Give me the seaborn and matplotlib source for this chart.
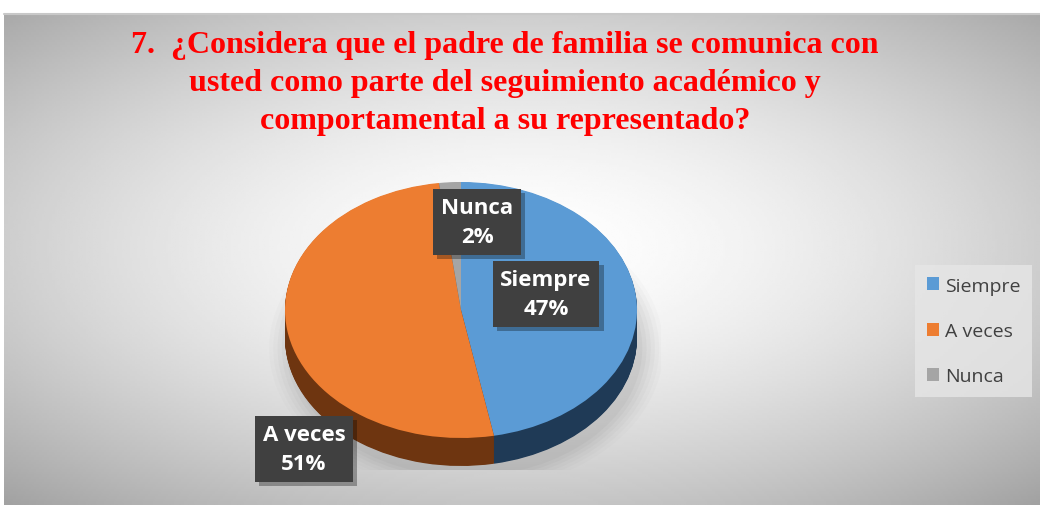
import numpy as np
import matplotlib
matplotlib.use("Agg")
import matplotlib.pyplot as plt
import matplotlib.patheffects as pe
import seaborn as sns
from matplotlib.patches import Patch, Ellipse

sns.set_style("white")
plt.rcParams["font.family"] = ["Open Sans", "DejaVu Sans"]

# ===============================
# Data
# ===============================
categorias = ["Siempre", "A veces", "Nunca"]
porcentajes = [47, 51, 2]
colores = ["#5b9bd5", "#ed7d31", "#a5a5a5"]
colores_lado = ["#1f3a56", "#6e3510", "#5a5a5a"]
titulo = ("7.  ¿Considera que el padre de familia se comunica con\n"
          "usted como parte del seguimiento académico y\n"
          "comportamental a su representado?")

W, H = 1040, 506
fig = plt.figure(figsize=(W / 100, H / 100), dpi=100)
fig.patch.set_facecolor("white")

# ===============================
# Background (radial gradient)
# ===============================
bg = fig.add_axes([4 / W, 0, 1036 / W, 491 / H])
gx, gy = np.meshgrid(np.linspace(-1, 1, 400), np.linspace(-1, 1, 200))
r = np.sqrt((gx * 0.95) ** 2 + ((gy + 0.05) * 1.0) ** 2)
shade = 1.0 - 0.21 * np.clip(r, 0, 1.45) ** 1.6
bg.imshow(shade, cmap="gray", vmin=0, vmax=1, aspect="auto", extent=[0, 1, 0, 1])
bg.set_axis_off()
fig.add_artist(plt.Line2D([4 / W, 1], [491 / H, 491 / H], color="#c8c8c8", lw=1.5))

# ===============================
# Pie (pseudo 3D)
# ===============================
cx, cy, a, b = 461, 195, 176, 128
ax = fig.add_axes([(cx - 200) / W, (cy - 160) / H, 400 / W, 320 / H])
ax.set_axis_off()
ax.patch.set_alpha(0)

profundidad = 28 / b
# soft shadow
for k, al in zip(np.linspace(1.12, 1.0, 6), [0.03, 0.04, 0.05, 0.06, 0.07, 0.08]):
    ax.add_patch(Ellipse((0.03, -profundidad - 0.08), 2 * k, 2 * k, color="#808080",
                         alpha=al, lw=0, zorder=0))

for d in np.linspace(profundidad, 0.005, 40):
    ax.pie(porcentajes, colors=colores_lado, startangle=90, counterclock=False,
           center=(0, -d), radius=1, wedgeprops=dict(linewidth=0))
ax.pie(porcentajes, colors=colores, startangle=90, counterclock=False,
       center=(0, 0), radius=1, wedgeprops=dict(linewidth=0))
ax.set_xlim(-200 / a, 200 / a)
ax.set_ylim(-160 / b, 160 / b)
ax.set_aspect("auto")

# ===============================
# Data labels
# ===============================
pos_etiquetas = [(0.483, 0.125), (-0.892, -1.086), (0.091, 0.6875)]
for cat, val, (lx, ly) in zip(categorias, porcentajes, pos_etiquetas):
    t = ax.text(lx, ly, f"{cat}\n{val}%", ha="center", va="center",
                fontsize=16, fontweight="bold", color="white", linespacing=1.5,
                bbox=dict(boxstyle="square,pad=0.35", fc="#404040", ec="none"),
                zorder=6)
    t.get_bbox_patch().set_path_effects(
        [pe.SimplePatchShadow(offset=(3, -3), shadow_rgbFace="#000000", alpha=0.3),
         pe.Normal()])

# ===============================
# Title & legend
# ===============================
fig.text(505 / W, (H - 31) / H, titulo, ha="center", va="top", color="#ff0000",
         fontsize=23, fontweight="bold", family=["Liberation Serif", "DejaVu Serif"],
         linespacing=1.42)

handles = [Patch(facecolor=c, edgecolor="none") for c in colores]
leg = fig.legend(handles, categorias, loc="center left",
                 bbox_to_anchor=(915 / W, (H - 332) / H), frameon=True,
                 fontsize=14, labelspacing=1.4, handlelength=0.65, handleheight=0.65,
                 handletextpad=0.3, borderpad=0.6, borderaxespad=0, fancybox=False)
leg.get_frame().set_facecolor("#e6e6e6")
leg.get_frame().set_edgecolor("none")
for t in leg.get_texts():
    t.set_color("#404040")

fig.savefig("out.png", dpi=100)
